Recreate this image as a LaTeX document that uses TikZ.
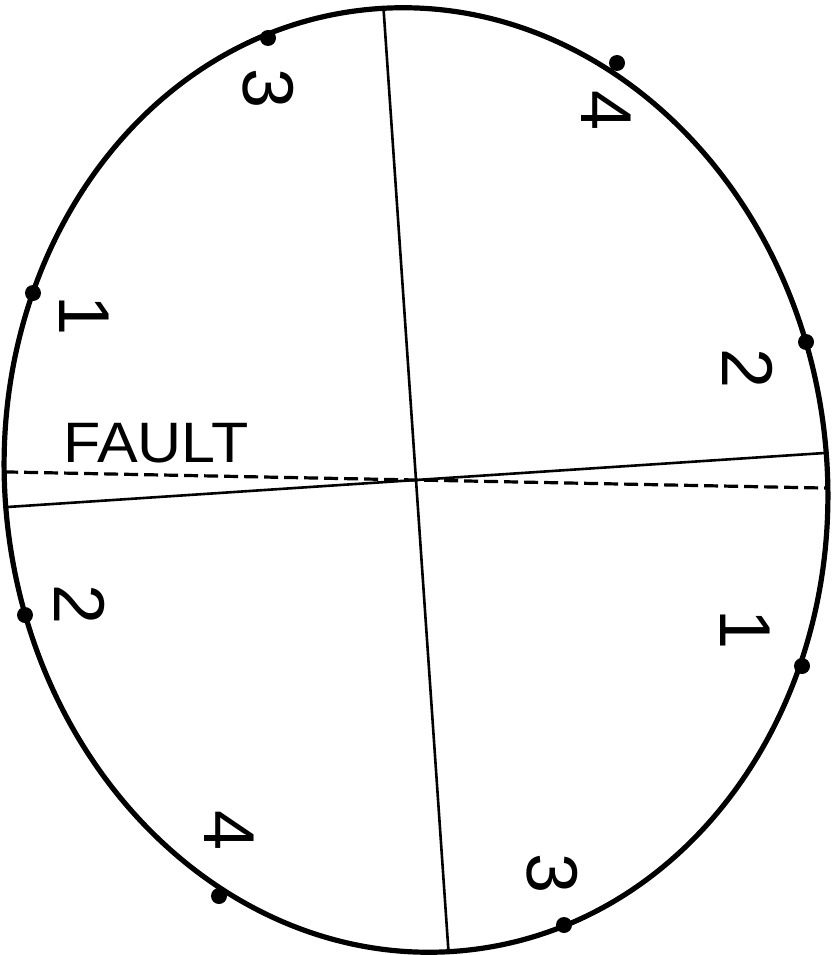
\documentclass[tikz,border=0pt]{standalone}
\usepackage{fontspec}
\setmainfont{Liberation Sans}
\begin{document}
\begin{tikzpicture}[x=1pt,y=-1pt,
  rim/.style={line width=5.2pt},
  chord/.style={line width=2.6pt},
  faultline/.style={line width=3.2pt, dash pattern=on 14pt off 6pt},
  dot/.style={circle, fill=black, inner sep=0pt, minimum size=16pt},
  digit/.style={font=\fontsize{72}{86}\selectfont, rotate=-90, inner sep=0pt},
  flabel/.style={font=\fontsize{57}{68}\selectfont, inner sep=0pt}]
\useasboundingbox (0,0) rectangle (837,955);
\coordinate (c) at (416,480);
\draw[rim, rotate around={6.6:(c)}] (c) ellipse [x radius=411pt, y radius=473pt];
% chords
\coordinate (vt) at (383.5,8.3);
\coordinate (vb) at (448.5,951.7);
\coordinate (sl) at (5.8,507.1);
\coordinate (sr) at (826.2,452.9);
\coordinate (fl) at (4.2,471.9);
\coordinate (fr) at (827.8,488.1);
\draw[chord] (vt) -- (vb);
\draw[chord] (sl) -- (sr);
\draw[faultline] (fl) -- (fr);
% dots on the rim
\node[dot] (d1) at (268,38) {};
\node[dot] (d2) at (617,63) {};
\node[dot] (d3) at (33,293) {};
\node[dot] (d4) at (806,342) {};
\node[dot] (d5) at (25,615) {};
\node[dot] (d6) at (802,666) {};
\node[dot] (d7) at (219,896) {};
\node[dot] (d8) at (564,925) {};
% rotated digits
\node[digit] (n3a) at (268,89) {3};
\node[digit] (n4a) at (606,111) {4};
\node[digit] (n1a) at (84,316) {1};
\node[digit] (n2a) at (748,369) {2};
\node[digit] (n2b) at (80,605) {2};
\node[digit] (n1b) at (745,630) {1};
\node[digit] (n4b) at (229,831) {4};
\node[digit] (n3b) at (552,874) {3};
\node[flabel] (fault) at (156,443) {\scalebox{1.07}[1]{FAULT}};
\end{tikzpicture}
\end{document}
